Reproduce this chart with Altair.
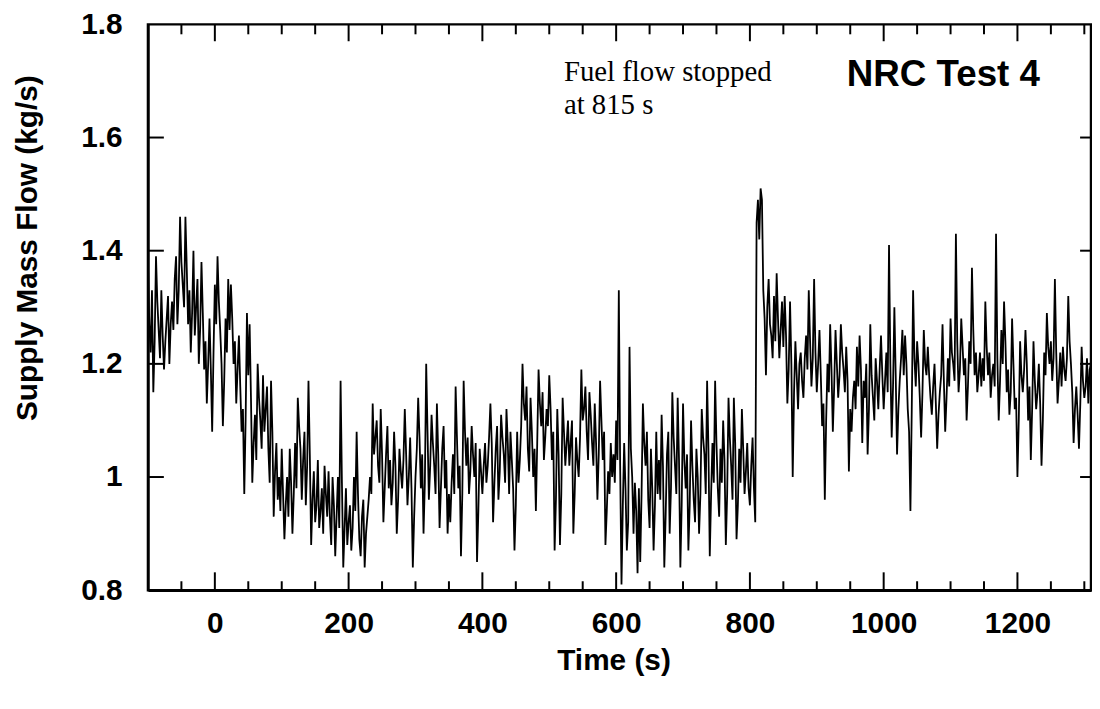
import altair as alt
import pandas as pd

# Supply mass flow (kg/s), one list per 100 s block, sampled every 2 s (block k starts at -100 + 100 k s)
flow_a = [1.38, 1.27, 1.22, 1.33, 1.15, 1.24, 1.39, 1.31, 1.26, 1.21, 1.33, 1.25, 1.19, 1.24, 1.28,
          1.32, 1.20, 1.27, 1.31, 1.26, 1.35, 1.39, 1.27, 1.33, 1.46, 1.38, 1.34, 1.30, 1.46, 1.37,
          1.27, 1.33, 1.22, 1.29, 1.40, 1.25, 1.30, 1.35, 1.20, 1.26, 1.38, 1.29, 1.19, 1.24, 1.13,
          1.20, 1.28, 1.19, 1.08, 1.22]
flow_b = [1.34, 1.27, 1.39, 1.31, 1.26, 1.20, 1.09, 1.17, 1.28, 1.22, 1.35, 1.26, 1.34, 1.28, 1.20,
          1.24, 1.13, 1.19, 1.25, 1.16, 1.08, 1.12, 0.97, 1.10, 1.29, 1.18, 1.27, 1.14, 0.99, 1.06,
          1.11, 1.03, 1.20, 1.14, 1.10, 1.05, 1.18, 1.08, 1.12, 1.16, 1.05, 0.99, 1.17, 1.08, 0.93,
          1.01, 1.06, 0.96, 1.00, 0.94]
flow_c = [1.05, 0.97, 0.89, 0.95, 1.00, 0.93, 1.05, 0.99, 0.90, 0.97, 1.06, 0.98, 1.14, 1.09, 1.05,
          0.96, 1.03, 1.08, 0.95, 1.02, 1.17, 1.04, 0.88, 0.96, 1.01, 0.92, 0.95, 1.03, 0.91, 0.94,
          0.98, 0.90, 1.02, 0.97, 0.93, 1.01, 0.93, 0.88, 1.00, 0.95, 0.86, 0.93, 1.00, 0.91, 1.17,
          0.99, 0.84, 0.91, 0.98, 0.88]
flow_d = [0.92, 0.95, 0.87, 0.91, 1.00, 0.94, 1.08, 0.97, 0.89, 0.86, 0.93, 0.96, 0.84, 0.90, 0.93,
          0.96, 1.00, 0.97, 1.13, 1.04, 1.07, 1.10, 1.02, 0.99, 1.12, 1.04, 0.92, 0.98, 1.04, 1.09,
          0.98, 1.03, 0.95, 0.99, 1.08, 1.02, 0.90, 0.96, 1.05, 1.01, 0.98, 1.03, 1.12, 1.04, 0.95,
          1.00, 1.07, 0.98, 0.84, 0.93]
flow_e = [1.00, 1.05, 1.14, 1.07, 0.98, 1.04, 0.90, 0.99, 1.20, 1.08, 0.96, 1.02, 1.11, 1.06, 1.02,
          0.97, 1.13, 1.04, 0.91, 0.98, 1.05, 1.09, 0.98, 1.03, 0.90, 0.97, 0.92, 0.99, 1.04, 0.97,
          1.16, 1.07, 0.98, 1.02, 0.86, 0.97, 1.17, 1.08, 1.02, 1.07, 0.97, 1.01, 1.09, 1.04, 1.00,
          1.06, 0.85, 0.94, 1.05, 1.01]
flow_f = [0.97, 1.02, 1.06, 0.99, 1.02, 1.07, 1.13, 1.06, 0.92, 0.99, 1.05, 1.09, 0.96, 1.01, 1.11,
          1.07, 1.04, 0.99, 1.12, 1.06, 0.97, 1.08, 1.03, 0.98, 0.87, 0.95, 1.08, 0.99, 1.03, 1.09,
          1.20, 1.13, 1.10, 1.16, 1.05, 1.01, 1.14, 1.08, 1.00, 1.05, 0.94, 1.06, 1.19, 1.13, 1.09,
          1.15, 1.03, 1.07, 1.12, 1.09]
flow_g = [1.18, 1.12, 1.03, 1.08, 0.87, 0.96, 1.12, 1.04, 0.88, 0.97, 1.14, 1.08, 1.02, 1.06, 1.10,
          1.02, 1.06, 1.10, 0.90, 0.97, 1.07, 1.03, 1.00, 1.07, 1.19, 1.10, 1.12, 1.16, 1.08, 1.03,
          1.15, 1.11, 1.06, 1.02, 1.13, 1.06, 0.96, 1.04, 1.17, 1.10, 1.03, 1.08, 0.88, 0.94, 1.01,
          0.97, 1.06, 1.00, 1.04, 0.99]
flow_h = [1.10, 1.03, 1.33, 1.02, 0.81, 0.95, 1.06, 0.98, 0.87, 0.92, 1.23, 1.05, 1.00, 0.90, 0.99,
          0.94, 0.83, 0.98, 0.85, 0.97, 1.13, 1.06, 1.02, 1.08, 0.96, 0.91, 1.05, 0.98, 0.87, 0.95,
          1.08, 0.97, 1.03, 0.96, 1.11, 1.02, 0.84, 0.93, 1.04, 1.08, 0.90, 0.98, 1.15, 1.07, 1.02,
          0.97, 1.14, 1.03, 0.84, 0.95]
flow_i = [1.13, 1.03, 0.98, 1.04, 0.87, 0.95, 1.10, 1.02, 0.96, 0.92, 1.05, 1.00, 0.90, 0.97, 1.12,
          1.07, 1.04, 0.97, 1.17, 1.05, 0.86, 0.97, 1.06, 0.99, 1.17, 1.06, 0.98, 0.93, 1.05, 0.99,
          1.10, 1.03, 0.88, 0.97, 1.14, 1.07, 1.02, 0.96, 1.14, 1.06, 0.89, 0.95, 1.05, 0.99, 1.12,
          1.05, 0.97, 1.01, 1.06, 0.98]
flow_j = [0.95, 1.02, 1.07, 0.98, 0.92, 1.45, 1.49, 1.42, 1.51, 1.49, 1.33, 1.28, 1.18, 1.30, 1.35,
          1.27, 1.25, 1.21, 1.32, 1.24, 1.36, 1.28, 1.21, 1.26, 1.31, 1.23, 1.32, 1.25, 1.13, 1.19,
          1.31, 1.20, 1.00, 1.15, 1.24, 1.18, 1.12, 1.20, 1.22, 1.17, 1.14, 1.21, 1.25, 1.19, 1.33,
          1.24, 1.16, 1.21, 1.35, 1.22]
flow_k = [1.15, 1.20, 1.26, 1.18, 1.09, 1.13, 0.96, 1.10, 1.20, 1.15, 1.27, 1.19, 1.08, 1.16, 1.26,
          1.20, 1.14, 1.18, 1.27, 1.22, 1.19, 1.15, 1.23, 1.17, 1.01, 1.12, 1.08, 1.14, 1.17, 1.12,
          1.23, 1.16, 1.25, 1.19, 1.06, 1.17, 1.14, 1.20, 1.04, 1.12, 1.27, 1.18, 1.14, 1.10, 1.21,
          1.17, 1.12, 1.19, 1.25, 1.18]
flow_l = [1.12, 1.17, 1.22, 1.15, 1.41, 1.20, 1.07, 1.16, 1.30, 1.18, 1.04, 1.12, 1.17, 1.21, 1.26,
          1.18, 1.25, 1.20, 1.12, 1.08, 0.94, 1.12, 1.33, 1.21, 1.16, 1.24, 1.20, 1.14, 1.07, 1.15,
          1.26, 1.20, 1.18, 1.23, 1.18, 1.14, 1.11, 1.16, 1.20, 1.13, 1.05, 1.11, 1.15, 1.18, 1.27,
          1.17, 1.08, 1.14, 1.21, 1.16]
flow_m = [1.28, 1.22, 1.20, 1.17, 1.43, 1.24, 1.15, 1.19, 1.28, 1.23, 1.18, 1.21, 1.10, 1.16, 1.24,
          1.20, 1.37, 1.26, 1.18, 1.22, 1.15, 1.18, 1.22, 1.16, 1.21, 1.17, 1.31, 1.23, 1.18, 1.22,
          1.14, 1.18, 1.20, 1.16, 1.43, 1.21, 1.10, 1.17, 1.26, 1.20, 1.31, 1.24, 1.15, 1.19, 1.11,
          1.15, 1.28, 1.20, 1.12, 1.14]
flow_n = [1.00, 1.10, 1.24, 1.18, 1.15, 1.19, 1.26, 1.20, 1.10, 1.16, 1.03, 1.12, 1.24, 1.17, 1.12,
          1.15, 1.20, 1.13, 1.02, 1.10, 1.22, 1.18, 1.29, 1.23, 1.20, 1.24, 1.17, 1.21, 1.35, 1.22,
          1.13, 1.17, 1.22, 1.16, 1.23, 1.19, 1.17, 1.21, 1.32, 1.24, 1.20, 1.15, 1.06, 1.12, 1.16,
          1.11, 1.05, 1.13, 1.23, 1.17, 1.14, 1.16, 1.21, 1.13, 1.19, 1.20]

t_start = -100
t_step = 2
block_len = 100

x_labels = [0, 200, 400, 600, 800, 1000, 1200]
x_minor = [-50, 50, 100, 150, 250, 300, 350, 450, 500, 550, 650, 700, 750, 850, 900, 950,
           1050, 1100, 1150, 1250, 1300]
y_labels = [0.8, 1.0, 1.2, 1.4, 1.6, 1.8]
y_inner_ticks = [1.0, 1.2, 1.4, 1.6]

W, H = 950, 570

blocks = [flow_a, flow_b, flow_c, flow_d, flow_e, flow_f, flow_g, flow_h, flow_i, flow_j,
          flow_k, flow_l, flow_m, flow_n]
rows = []
for k, blk in enumerate(blocks):
    for i, val in enumerate(blk):
        rows.append({"t": t_start + block_len * k + t_step * i, "v": val})
df = pd.DataFrame(rows)

xs = alt.Scale(domain=[-100, 1310], nice=False, zero=False)
ys = alt.Scale(domain=[0.8, 1.8], nice=False, zero=False)

x_axis = alt.Axis(values=x_labels, format="d", title="Time (s)", labelPadding=19,
                  labelFlush=False, titleX=469, titleY=80, titleBaseline="alphabetic",
                  titleAlign="center")
y_axis = alt.Axis(values=y_labels, format="~g", title="Supply Mass Flow (kg/s)",
                  labelPadding=26, labelFlush=False, titleX=-112, titleY=225, titleAngle=270,
                  titleBaseline="alphabetic", titleAlign="center")

line = alt.Chart(df).mark_line(color="black", strokeWidth=1.8).encode(
    x=alt.X("t:Q", scale=xs, axis=x_axis),
    y=alt.Y("v:Q", scale=ys, axis=y_axis),
)

yt = pd.DataFrame({"v": y_inner_ticks})
left_ticks = alt.Chart(yt).mark_rule(color="black", strokeWidth=2).encode(
    y=alt.Y("v:Q", scale=ys, axis=y_axis), x=alt.value(0), x2=alt.value(16))
right_ticks = alt.Chart(yt).mark_rule(color="black", strokeWidth=2).encode(
    y=alt.Y("v:Q", scale=ys, axis=y_axis), x=alt.value(W - 11), x2=alt.value(W))

xmaj = pd.DataFrame({"t": x_labels})
xmin = pd.DataFrame({"t": x_minor})
bottom_major = alt.Chart(xmaj).mark_rule(color="black", strokeWidth=2).encode(
    x=alt.X("t:Q", scale=xs, axis=x_axis), y=alt.value(H - 18), y2=alt.value(H))
top_major = alt.Chart(xmaj).mark_rule(color="black", strokeWidth=2).encode(
    x=alt.X("t:Q", scale=xs, axis=x_axis), y=alt.value(0), y2=alt.value(17))
bottom_minor = alt.Chart(xmin).mark_rule(color="black", strokeWidth=2).encode(
    x=alt.X("t:Q", scale=xs, axis=x_axis), y=alt.value(H - 9), y2=alt.value(H))
top_minor = alt.Chart(xmin).mark_rule(color="black", strokeWidth=2).encode(
    x=alt.X("t:Q", scale=xs, axis=x_axis), y=alt.value(0), y2=alt.value(10))

one = pd.DataFrame({"a": [0]})
note1 = alt.Chart(one).mark_text(font="Liberation Serif", fontSize=29, align="left",
                                 baseline="alphabetic", color="black").encode(
    x=alt.value(419), y=alt.value(57), text=alt.value("Fuel flow stopped"))
note2 = alt.Chart(one).mark_text(font="Liberation Serif", fontSize=29, align="left",
                                 baseline="alphabetic", color="black").encode(
    x=alt.value(419), y=alt.value(90), text=alt.value("at 815 s"))
label = alt.Chart(one).mark_text(font="Liberation Sans", fontSize=37, fontWeight="bold",
                                 align="left", baseline="alphabetic", color="black").encode(
    x=alt.value(704), y=alt.value(62), text=alt.value("NRC Test 4"))

chart = alt.layer(line, left_ticks, right_ticks, bottom_major, top_major, bottom_minor,
                  top_minor, note1, note2, label).properties(
    width=W, height=H,
    autosize=alt.AutoSizeParams(type="none"),
    padding={"left": 141, "top": 14, "right": 1, "bottom": 90},
).configure_view(stroke="black", strokeWidth=2.5).configure_axis(
    domainColor="black", domainWidth=2.5, ticks=False, grid=False,
    labelFont="Liberation Sans", labelFontSize=30, labelFontWeight="bold", labelColor="black",
    titleFont="Liberation Sans", titleFontSize=30, titleFontWeight="bold", titleColor="black",
    labelOverlap=False,
)

chart.save("out.html", embed_options={"renderer": "svg", "actions": False})
